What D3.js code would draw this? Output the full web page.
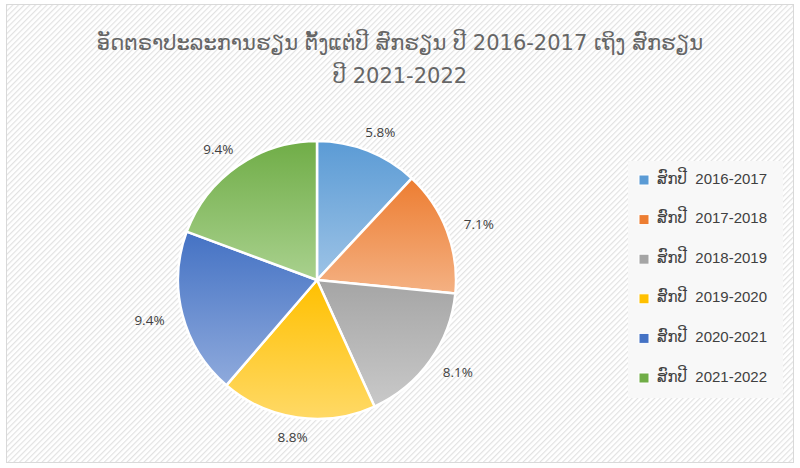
<!DOCTYPE html>
<html><head><meta charset="utf-8">
<script src="https://cdn.jsdelivr.net/npm/d3@7"></script>
<style>html,body{margin:0;padding:0;background:#fff;}svg{display:block;}</style>
</head><body>
<svg id="chart" width="800" height="468"></svg>
<script>
const titleLines = ["ອັດຕຣາປະລະການຮຽນ ຕັ້ງແຕ່ປີ ສົກຮຽນ ປີ 2016-2017 ເຖິງ ສົກຮຽນ", "ປີ 2021-2022"];
const categories = ["ສົກປີ  2016-2017","ສົກປີ  2017-2018","ສົກປີ  2018-2019","ສົກປີ  2019-2020","ສົກປີ  2020-2021","ສົກປີ  2021-2022"];
const values = [5.8, 7.1, 8.1, 8.8, 9.4, 9.4];
const labels = ["5.8%","7.1%","8.1%","8.8%","9.4%","9.4%"];
const topColors = ["#5b9bd5","#ed7d31","#a5a5a5","#ffc000","#4472c4","#70ad47"];
const bottomColors = ["#9dc3e6","#f4b183","#c9c9c9","#ffd966","#8faadc","#a9d18e"];

const svg = d3.select("#chart");
const defs = svg.append("defs");
const pat = defs.append("pattern").attr("id","hatch").attr("patternUnits","userSpaceOnUse")
  .attr("width",4).attr("height",4).attr("patternTransform","rotate(45)");
pat.append("rect").attr("width",4).attr("height",4).attr("fill","#ffffff");
pat.append("rect").attr("width",1.2).attr("height",4).attr("fill","#e2e2e2");

svg.append("rect").attr("x",6.5).attr("y",4.5).attr("width",787).attr("height",458)
  .attr("fill","url(#hatch)").attr("stroke","#d9d9d9").attr("stroke-width",1);

categories.forEach((c,i)=>{
  const g = defs.append("linearGradient").attr("id","grad"+i)
    .attr("x1",0).attr("y1",0).attr("x2",0).attr("y2",1);
  g.append("stop").attr("offset","0%").attr("stop-color",topColors[i]);
  g.append("stop").attr("offset","100%").attr("stop-color",bottomColors[i]);
});

const title = svg.append("text").attr("text-anchor","middle")
  .attr("font-family","'DejaVu Sans', 'Noto Sans', sans-serif").attr("font-size",21)
  .attr("fill","#666666");
titleLines.forEach((t,i)=>{
  title.append("tspan").attr("x",400).attr("y",50+i*33).text(t);
});

const cx = 317, cy = 280, r = 139;
const pie = d3.pie().sort(null).value(d=>d);
const arcs = pie(values);
const arc = d3.arc().innerRadius(0).outerRadius(r);
const g = svg.append("g").attr("transform",`translate(${cx},${cy})`);
g.selectAll("path.slice").data(arcs).enter().append("path")
  .attr("class","slice")
  .attr("d",arc)
  .attr("fill",(d,i)=>`url(#grad${i})`)
  .attr("stroke","#ffffff").attr("stroke-width",2.5).attr("stroke-linejoin","round");

const lw = 44, lh = 16, lr = r + 12;
g.selectAll("text.lbl").data(arcs).enter().append("text")
  .attr("class","lbl")
  .attr("text-anchor","middle").attr("dominant-baseline","central")
  .attr("font-family","'Open Sans', 'Liberation Sans', sans-serif").attr("font-size",13.5)
  .attr("fill","#404040")
  .attr("x",d=>{const a=(d.startAngle+d.endAngle)/2; return Math.sin(a)*lr + Math.sin(a)*lw/2;})
  .attr("y",d=>{const a=(d.startAngle+d.endAngle)/2; return -Math.cos(a)*lr - Math.cos(a)*lh/2;})
  .text((d,i)=>labels[i]);

svg.append("rect").attr("x",628).attr("y",161).attr("width",155).attr("height",237)
  .attr("fill","#f8f8f8");
const ly = d3.scalePoint().domain(categories).range([178,376]);
const leg = svg.append("g");
const items = leg.selectAll("g").data(categories).enter().append("g")
  .attr("transform",d=>`translate(0,${ly(d)})`);
items.append("rect").attr("x",639).attr("y",-3).attr("width",10).attr("height",10)
  .attr("fill",(d,i)=>topColors[i]).attr("stroke","#ffffff").attr("stroke-width",1);
items.append("text").attr("x",657).attr("y",0).attr("dominant-baseline","central")
  .attr("font-family","'Liberation Sans', 'DejaVu Sans', sans-serif").attr("font-size",15)
  .attr("fill","#404040").attr("xml:space","preserve").style("white-space","pre")
  .text(d=>d);
</script>
</body></html>
